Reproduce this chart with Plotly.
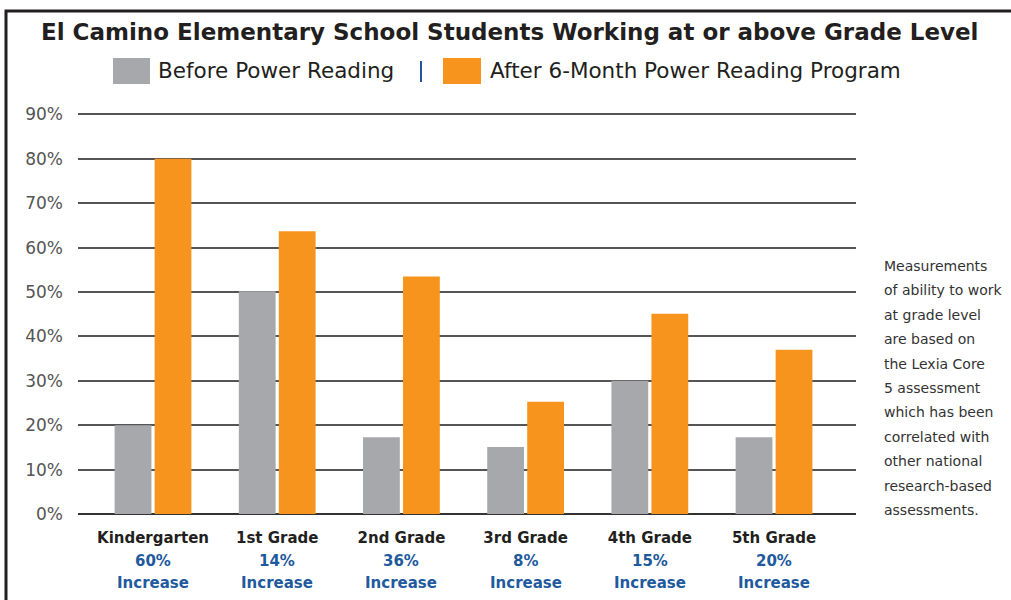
import plotly.graph_objects as go

categories = ["Kindergarten", "1st Grade", "2nd Grade", "3rd Grade", "4th Grade", "5th Grade"]
before = [20, 50.2, 17.3, 15.1, 30, 17.3]
after = [80, 63.7, 53.5, 25.3, 45.1, 37.0]
increase_labels = ["60%", "14%", "36%", "8%", "15%", "20%"]
increase_word = "Increase"
y_ticks = [0, 10, 20, 30, 40, 50, 60, 70, 80, 90]
y_tick_labels = [f"{v}%" for v in y_ticks]
series_names = ["Before Power Reading", "After 6-Month Power Reading Program"]
title_text = "El Camino Elementary School Students Working at or above Grade Level"
note_lines = ["Measurements", "of ability to work", "at grade level", "are based on",
              "the Lexia Core", "5 assessment", "which has been", "correlated with",
              "other national", "research-based", "assessments."]

GRAY = "#a7a8ab"
ORANGE = "#f7941d"
BLUE = "#1f5a9e"
DARK = "#231f20"
FONT = "DejaVu Sans"

W, H = 1011, 600
L, R, T, B = 78, 155, 110, 86
PW = W - L - R
PH = H - T - B


def px(x):
    return (x - L) / PW


def py(y):
    return (H - B - y) / PH


fig = go.Figure()
fig.add_trace(go.Bar(x=categories, y=before, name=series_names[0], marker_color=GRAY,
                     marker_line_width=0))
fig.add_trace(go.Bar(x=categories, y=after, name=series_names[1], marker_color=ORANGE,
                     marker_line_width=0))

shapes = [
    # frame
    dict(type="rect", xref="paper", yref="paper", x0=px(6), x1=px(1020), y0=py(11), y1=py(610),
         line=dict(color=DARK, width=3), fillcolor="rgba(0,0,0,0)", layer="above"),
    # legend swatches
    dict(type="rect", xref="paper", yref="paper", x0=px(113), x1=px(150), y0=py(84), y1=py(58),
         line=dict(width=0), fillcolor=GRAY),
    dict(type="rect", xref="paper", yref="paper", x0=px(443), x1=px(481), y0=py(84), y1=py(58),
         line=dict(width=0), fillcolor=ORANGE),
    dict(type="line", xref="paper", yref="paper", x0=px(421), x1=px(421), y0=py(82), y1=py(61),
         line=dict(color=BLUE, width=2)),
]

annotations = [
    dict(text=f"<b>{title_text}</b>", xref="paper", yref="paper", x=px(509), y=py(32),
         xanchor="center", yanchor="middle", showarrow=False,
         font=dict(family=FONT, size=23, color=DARK)),
    dict(text=series_names[0], xref="paper", yref="paper", x=px(156), y=py(71),
         xanchor="left", yanchor="middle", showarrow=False,
         font=dict(family=FONT, size=21.5, color=DARK)),
    dict(text=series_names[1], xref="paper", yref="paper", x=px(488), y=py(71),
         xanchor="left", yanchor="middle", showarrow=False,
         font=dict(family=FONT, size=21.5, color=DARK)),
]
for c, inc in zip(categories, increase_labels):
    annotations.append(dict(text=f"<b>{inc}</b>", xref="x", yref="paper", x=c, y=py(561),
                            xanchor="center", yanchor="middle", showarrow=False,
                            font=dict(family=FONT, size=15, color=BLUE)))
    annotations.append(dict(text=f"<b>{increase_word}</b>", xref="x", yref="paper", x=c, y=py(583),
                            xanchor="center", yanchor="middle", showarrow=False,
                            font=dict(family=FONT, size=15, color=BLUE)))
for i, line in enumerate(note_lines):
    annotations.append(dict(text=line, xref="paper", yref="paper", x=px(882), y=py(266 + i * 24.4),
                            xanchor="left", yanchor="middle", showarrow=False,
                            font=dict(family=FONT, size=14, color="#333333")))

fig.update_layout(
    width=W, height=H,
    margin=dict(l=L, r=R, t=T, b=B),
    paper_bgcolor="white", plot_bgcolor="white",
    barmode="group", bargap=0.356, bargroupgap=0.08,
    showlegend=False,
    shapes=shapes, annotations=annotations,
    font=dict(family=FONT),
    xaxis=dict(range=[-0.604, 5.66], tickmode="array", tickvals=categories,
               ticktext=[f"<b>{c}</b>" for c in categories],
               tickfont=dict(family=FONT, size=15, color=DARK), showgrid=False, showline=False,
               ticks="", ticklabelstandoff=13),
    yaxis=dict(range=[0, 91], tickmode="array", tickvals=y_ticks, ticktext=y_tick_labels,
               tickfont=dict(family=FONT, size=17, color="#555555"), showgrid=True,
               gridcolor="#555555", gridwidth=1.5, zeroline=True, zerolinecolor="#333333",
               zerolinewidth=1.5, showline=False, ticks="", ticklabelstandoff=14),
)

fig.write_html("out.html", config={"displayModeBar": False},
               post_script="document.body.style.margin='0px';")
